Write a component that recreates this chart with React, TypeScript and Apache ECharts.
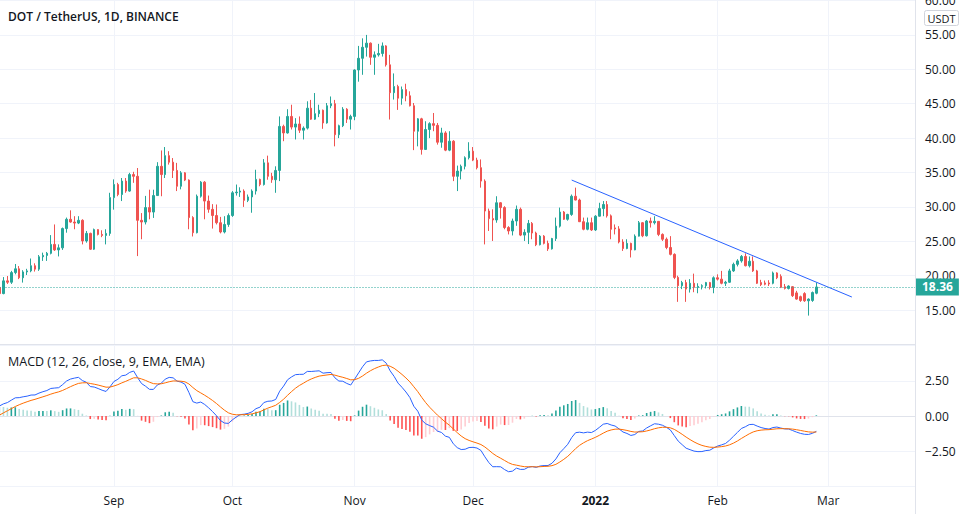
import React, { useEffect, useRef } from "react";
import * as echarts from "echarts";

// ---------- data ----------
const firstDay = "2021-08-03";
const axisLastDay = "2022-03-23";

// daily candles, [open, high, low, close]
const aug2021: number[][] = [
  [18.3, 18.6, 17.0, 17.4], [17.4, 19.8, 17.3, 19.25], [19.25, 19.95, 18.8, 19.05], [19.05, 20.7, 18.8, 20.45],
  [20.45, 21.7, 20.2, 21.0], [21.0, 21.4, 19.5, 19.7], [19.7, 20.8, 19.0, 20.55], [20.55, 21.0, 20.1, 20.7],
  [20.7, 22.5, 20.5, 21.45], [21.45, 21.8, 20.6, 20.95], [20.95, 23.0, 20.7, 22.75], [22.75, 23.35, 22.15, 22.95],
  [22.95, 23.45, 22.15, 23.25], [23.25, 25.9, 23.1, 24.55], [24.55, 27.45, 23.6, 23.75], [23.75, 24.55, 22.8, 24.05],
  [24.05, 27.0, 23.75, 26.85], [26.85, 28.45, 26.25, 28.2], [28.2, 29.5, 27.7, 27.8], [27.8, 28.65, 26.75, 27.65],
  [27.65, 28.65, 27.5, 28.05], [28.05, 28.2, 24.55, 25.05], [25.05, 26.5, 24.8, 26.15], [26.15, 26.25, 23.75, 23.85],
  [23.85, 26.85, 23.75, 26.7], [26.7, 26.75, 25.85, 26.0], [26.0, 26.6, 25.6, 25.85], [25.85, 26.75, 24.55, 26.15],
  [26.15, 32.05, 25.8, 31.35],
];
const sep2021: number[][] = [
  [31.35, 34.0, 29.6, 33.25], [33.25, 33.5, 31.55, 31.8], [31.8, 34.2, 30.85, 33.75], [33.75, 34.2, 32.05, 32.3],
  [32.3, 34.95, 32.2, 34.7], [34.7, 35.1, 33.5, 34.45], [34.45, 35.65, 22.85, 28.05], [28.05, 29.1, 25.3, 27.8],
  [27.8, 31.6, 27.45, 29.9], [29.9, 32.5, 28.2, 29.25], [29.25, 32.5, 28.4, 31.65], [31.65, 36.5, 31.6, 35.9],
  [35.9, 38.2, 31.55, 34.7], [34.7, 38.7, 34.2, 37.45], [37.45, 38.1, 36.15, 36.5], [36.5, 37.1, 34.2, 35.3],
  [35.3, 36.4, 32.3, 33.0], [33.0, 35.2, 32.55, 34.95], [34.95, 35.05, 33.75, 33.9], [33.9, 34.0, 26.75, 28.45],
  [28.45, 28.65, 25.7, 26.25], [26.25, 31.8, 26.15, 31.55], [31.55, 33.75, 31.35, 33.6], [33.6, 33.75, 28.2, 30.85],
  [30.85, 31.65, 29.15, 29.65], [29.65, 30.4, 26.85, 28.75], [28.75, 30.35, 27.45, 27.7], [27.7, 28.55, 26.15, 26.35],
  [26.35, 28.65, 26.15, 27.45], [27.45, 29.05, 27.1, 28.75],
];
const oct2021: number[][] = [
  [28.75, 32.3, 28.55, 32.05], [32.05, 33.25, 31.65, 32.15], [32.15, 32.85, 31.45, 32.3], [32.3, 32.55, 30.0, 30.95],
  [30.95, 31.8, 30.7, 31.45], [31.45, 32.55, 29.15, 32.3], [32.3, 35.4, 31.8, 34.0], [34.0, 34.1, 33.0, 33.25],
  [33.25, 36.95, 33.1, 36.4], [36.4, 37.45, 33.95, 34.45], [34.45, 34.95, 33.5, 33.95], [33.95, 35.9, 32.05, 35.3],
  [35.3, 43.15, 33.75, 41.7], [41.7, 41.95, 39.55, 40.75], [40.75, 44.2, 40.65, 43.15], [43.15, 44.85, 41.25, 41.6],
  [41.6, 42.9, 39.8, 42.05], [42.05, 43.15, 40.75, 41.15], [41.15, 41.7, 39.8, 41.45], [41.45, 45.35, 41.25, 44.35],
  [44.35, 45.55, 42.65, 42.75], [42.75, 46.55, 42.65, 43.55], [43.55, 44.85, 43.05, 44.05], [44.05, 44.15, 41.35, 42.2],
  [42.2, 45.1, 42.1, 44.7], [44.7, 46.05, 44.35, 45.0], [45.0, 45.55, 38.8, 40.5], [40.5, 41.95, 40.0, 41.8],
  [41.8, 44.5, 41.6, 44.2], [44.2, 44.35, 42.2, 42.75], [42.75, 43.4, 41.25, 43.15],
];
const nov2021: number[][] = [
  [43.15, 50.0, 42.6, 49.9], [49.9, 53.4, 48.2, 51.6], [51.6, 54.5, 49.2, 53.2], [53.2, 55.0, 51.85, 53.8],
  [53.8, 53.9, 50.65, 51.75], [51.75, 52.6, 49.2, 52.1], [52.1, 53.7, 51.85, 52.3], [52.3, 53.9, 51.85, 53.4],
  [53.4, 53.5, 50.4, 50.65], [50.65, 52.1, 42.7, 46.6], [46.6, 49.4, 45.6, 47.5], [47.5, 47.75, 44.1, 45.8],
  [45.8, 47.5, 44.85, 47.05], [47.05, 47.9, 45.35, 46.15], [46.15, 46.8, 44.6, 44.7], [44.7, 45.1, 38.25, 41.0],
  [41.0, 42.9, 38.8, 42.8], [42.8, 42.95, 37.6, 38.35], [38.35, 42.45, 38.3, 41.25], [41.25, 42.3, 40.0, 42.1],
  [42.1, 43.65, 41.0, 41.85], [41.85, 42.2, 39.05, 39.4], [39.4, 41.5, 38.6, 40.75], [40.75, 41.0, 38.1, 38.25],
  [38.25, 41.0, 38.1, 39.55], [39.55, 39.7, 33.75, 34.45], [34.45, 36.0, 32.3, 35.2], [35.2, 36.15, 34.0, 35.9],
  [35.9, 37.35, 35.45, 37.15], [37.15, 39.4, 36.9, 38.1],
];
const dec2021: number[][] = [
  [38.1, 38.7, 36.65, 36.8], [36.8, 37.15, 35.45, 35.7], [35.7, 36.9, 32.8, 33.75], [33.75, 34.0, 24.55, 29.4],
  [29.4, 29.75, 26.5, 28.3], [28.3, 29.65, 25.05, 28.1], [28.1, 31.55, 27.7, 30.6], [30.6, 30.7, 28.3, 29.9],
  [29.9, 30.1, 26.75, 27.0], [27.0, 27.2, 26.0, 26.5], [26.5, 28.3, 25.85, 27.95], [27.95, 30.2, 27.25, 29.65],
  [29.65, 29.9, 25.75, 25.9], [25.9, 26.75, 25.05, 26.3], [26.3, 28.1, 24.6, 27.6], [27.6, 27.8, 25.3, 26.2],
  [26.2, 26.4, 24.3, 24.5], [24.5, 25.9, 24.4, 25.75], [25.75, 25.9, 24.55, 24.7], [24.7, 25.1, 23.6, 23.9],
  [23.9, 25.5, 23.8, 25.4], [25.4, 28.45, 25.05, 27.2], [27.2, 29.9, 27.0, 29.25], [29.25, 29.4, 28.1, 28.2],
  [28.2, 29.0, 28.0, 28.9], [28.9, 31.8, 28.7, 31.55], [31.55, 32.8, 30.95, 31.0], [31.0, 31.2, 27.8, 27.85],
  [27.85, 28.45, 26.6, 26.75], [26.75, 28.45, 26.6, 27.7], [27.7, 28.45, 26.5, 26.65],
];
const jan2022: number[][] = [
  [26.65, 28.8, 26.5, 28.65], [28.65, 30.6, 28.6, 29.75], [29.75, 30.85, 28.65, 30.35], [30.35, 30.85, 28.45, 28.7],
  [28.7, 28.9, 25.3, 26.75], [26.95, 27.45, 26.0, 26.8], [26.8, 27.2, 24.7, 24.9], [24.9, 25.3, 23.6, 23.95],
  [23.95, 25.3, 23.85, 24.7], [24.7, 24.8, 22.65, 23.75], [23.75, 26.0, 23.7, 25.75], [25.75, 27.95, 25.7, 27.7],
  [27.7, 27.8, 25.6, 25.8], [25.8, 28.1, 25.7, 27.95], [27.95, 28.45, 27.0, 27.7], [27.7, 28.65, 27.45, 27.9],
  [27.9, 27.95, 25.75, 26.0], [26.0, 26.15, 25.05, 25.3], [25.3, 25.55, 23.85, 24.1], [24.1, 25.75, 22.95, 23.1],
  [23.1, 23.25, 19.5, 19.75], [19.75, 20.0, 16.2, 18.55], [18.55, 19.25, 18.05, 19.0], [19.0, 19.4, 16.2, 18.05],
  [18.05, 19.5, 17.55, 18.9], [18.9, 20.3, 17.6, 18.3], [18.3, 18.9, 17.45, 18.45], [18.45, 18.75, 18.0, 18.55],
  [18.55, 19.1, 18.15, 19.0], [19.0, 19.1, 18.0, 18.3], [18.3, 19.9, 17.45, 19.7],
];
const feb2022: number[][] = [
  [19.7, 20.2, 19.3, 19.5], [19.5, 20.7, 18.75, 18.9], [18.9, 19.25, 18.5, 19.05], [19.05, 21.0, 18.95, 20.7],
  [20.7, 21.9, 20.55, 21.65], [21.65, 22.4, 21.35, 22.15], [22.15, 23.0, 21.9, 22.8], [22.8, 23.25, 21.35, 21.45],
  [21.45, 22.8, 21.2, 22.1], [22.1, 22.8, 20.55, 20.7], [20.7, 20.85, 18.8, 18.9], [19.0, 19.4, 18.5, 18.7],
  [18.95, 19.3, 18.6, 18.75], [18.95, 19.35, 18.5, 18.8], [18.9, 20.6, 18.75, 20.4], [20.4, 20.5, 19.5, 19.7],
  [19.9, 20.2, 18.2, 18.3], [18.4, 18.8, 18.0, 18.15], [18.15, 18.6, 18.0, 18.5], [18.4, 18.5, 16.9, 17.1],
  [17.5, 17.8, 16.5, 16.6], [16.95, 17.1, 16.2, 16.4], [17.4, 17.6, 16.2, 16.35], [16.35, 16.7, 14.2, 16.6],
  [16.4, 17.7, 16.2, 17.55], [17.45, 19.0, 17.3, 18.36],
];

const lastPrice = 18.36;
const trendFrom: [string, number] = ["2021-12-26", 33.9];
const trendTo: [string, number] = ["2022-03-07", 16.9];

const priceMin = 10;
const priceMax = 60;
const priceStep = 5;
const macdMin = -5;
const macdMax = 5;
const macdStep = 2.5;

const macdFast = 12;
const macdSlow = 26;
const macdSignal = 9;
// indicator state just before the first visible candle
const seedFastEma = 16.6;
const seedSlowEma = 15.9;
const seedSignal = -0.1;

const monthNames = ["Jan", "Feb", "Mar", "Apr", "May", "Jun", "Jul", "Aug", "Sep", "Oct", "Nov", "Dec"];

// ---------- colours ----------
const UP = "#26a69a";
const DOWN = "#ef5350";
const GRID = "#f0f3fa";
const BORDER = "#e0e3eb";
const TEXT = "#131722";
const FONT = "'Open Sans', 'Liberation Sans', Arial, sans-serif";

function buildDays(from: string, to: string): string[] {
  const out: string[] = [];
  const d = new Date(from + "T00:00:00Z");
  const end = new Date(to + "T00:00:00Z").getTime();
  while (d.getTime() <= end) {
    out.push(d.toISOString().slice(0, 10));
    d.setUTCDate(d.getUTCDate() + 1);
  }
  return out;
}

const isMonthStart = (_i: number, v: string) => typeof v === "string" && v.slice(8) === "01";

export default function App() {
  const ref = useRef<HTMLDivElement>(null);

  useEffect(() => {
    document.body.style.margin = "0";
    if (!ref.current) return;
    const chart = echarts.init(ref.current, undefined, { renderer: "svg" });

    const days = buildDays(firstDay, axisLastDay);
    const candles = [...aug2021, ...sep2021, ...oct2021, ...nov2021, ...dec2021, ...jan2022, ...feb2022];
    const candleData = candles.map(([o, h, l, c]) => [o, c, l, h]);

    // MACD from the closes
    const aF = 2 / (macdFast + 1);
    const aS = 2 / (macdSlow + 1);
    const aG = 2 / (macdSignal + 1);
    let eF = seedFastEma;
    let eS = seedSlowEma;
    let sig = seedSignal;
    let prevHist = seedFastEma - seedSlowEma - seedSignal;
    const macdLine: number[] = [];
    const signalLine: number[] = [];
    const hist: any[] = [];
    candles.forEach((c) => {
      const close = c[3];
      eF += aF * (close - eF);
      eS += aS * (close - eS);
      const m = eF - eS;
      sig += aG * (m - sig);
      const h = m - sig;
      let color: string;
      if (h >= 0) color = h > prevHist ? "#26a69a" : "#b2dfdb";
      else color = h < prevHist ? "#ff5252" : "#ffcdd2";
      prevHist = h;
      macdLine.push(+m.toFixed(4));
      signalLine.push(+sig.toFixed(4));
      hist.push({ value: +h.toFixed(4), itemStyle: { color } });
    });

    const trend: (number | null)[] = days.map(() => null);
    trend[days.indexOf(trendFrom[0])] = trendFrom[1];
    trend[days.indexOf(trendTo[0])] = trendTo[1];

    const gridLeft = -0.5;
    const gridRight = 53;

    const option: any = {
      animation: false,
      backgroundColor: "#ffffff",
      textStyle: { fontFamily: FONT },
      title: [
        {
          text: "DOT / TetherUS, 1D, BINANCE",
          left: 8,
          top: 10,
          padding: 0,
          textStyle: { fontFamily: FONT, fontSize: 12, fontWeight: 600, color: TEXT },
        },
        {
          text: "MACD (12, 26, close, 9, EMA, EMA)",
          left: 8,
          top: 355,
          padding: 0,
          textStyle: { fontFamily: FONT, fontSize: 12.5, fontWeight: "normal", color: TEXT },
        },
      ],
      grid: [
        { left: gridLeft, right: gridRight, top: 0.5, height: 344, containLabel: false, outerBoundsMode: "none" },
        { left: gridLeft, right: gridRight, top: 345.5, height: 141, containLabel: false, outerBoundsMode: "none" },
      ],
      xAxis: [
        {
          type: "category",
          gridIndex: 0,
          data: days,
          boundaryGap: false,
          axisLine: { show: true, lineStyle: { color: BORDER } },
          axisTick: { show: false },
          axisLabel: { show: false },
          splitLine: { show: true, interval: isMonthStart, lineStyle: { color: GRID, width: 1 } },
        },
        {
          type: "category",
          gridIndex: 1,
          data: days,
          boundaryGap: false,
          axisLine: { show: true, lineStyle: { color: BORDER } },
          axisTick: { show: false },
          axisLabel: {
            show: true,
            interval: isMonthStart,
            margin: 8,
            color: TEXT,
            fontSize: 12,
            fontFamily: FONT,
            formatter: (v: string) => {
              const m = +v.slice(5, 7);
              if (m === 1) return "{y|" + v.slice(0, 4) + "}";
              return monthNames[m - 1];
            },
            rich: { y: { fontWeight: "bold", fontSize: 12, color: TEXT, fontFamily: FONT } },
          },
          splitLine: { show: true, interval: isMonthStart, lineStyle: { color: GRID, width: 1 } },
        },
      ],
      yAxis: [
        {
          type: "value",
          gridIndex: 0,
          position: "right",
          min: priceMin,
          max: priceMax,
          interval: priceStep,
          axisLine: { show: true, lineStyle: { color: BORDER } },
          axisTick: { show: false },
          axisLabel: {
            color: TEXT,
            fontSize: 12,
            fontFamily: FONT,
            margin: 10,
            showMinLabel: false,
            formatter: (v: number) => v.toFixed(2),
          },
          splitLine: { show: true, lineStyle: { color: GRID, width: 1 } },
        },
        {
          type: "value",
          gridIndex: 1,
          position: "right",
          min: macdMin,
          max: macdMax,
          interval: macdStep,
          axisLine: { show: true, lineStyle: { color: BORDER } },
          axisTick: { show: false },
          axisLabel: {
            color: TEXT,
            fontSize: 12,
            fontFamily: FONT,
            margin: 10,
            showMinLabel: false,
            showMaxLabel: false,
            formatter: (v: number) => v.toFixed(2).replace("-", "\u2212"),
          },
          splitLine: { show: true, lineStyle: { color: GRID, width: 1 } },
        },
      ],
      graphic: [
        {
          type: "line",
          silent: true,
          shape: { x1: 915.5, y1: 0, x2: 915.5, y2: 514 },
          style: { stroke: BORDER, lineWidth: 1 },
        },
        {
          type: "group",
          right: 9,
          top: 10,
          children: [
            {
              type: "rect",
              shape: { x: 0, y: 0, width: 34, height: 15, r: 2 },
              style: { fill: "#ffffff", stroke: "#d1d4dc", lineWidth: 1 },
            },
            {
              type: "text",
              x: 17,
              y: 8,
              style: {
                text: "USDT",
                fill: TEXT,
                fontSize: 11,
                fontFamily: FONT,
                align: "center",
                verticalAlign: "middle",
              },
            },
          ],
        },
      ],
      series: [
        {
          type: "candlestick",
          name: "DOTUSDT",
          xAxisIndex: 0,
          yAxisIndex: 0,
          data: candleData,
          barWidth: 2,
          itemStyle: { color: UP, color0: DOWN, borderColor: UP, borderColor0: DOWN, borderWidth: 1 },
          markLine: {
            silent: true,
            symbol: ["none", "none"],
            lineStyle: { color: UP, type: [1, 2], width: 1 },
            label: {
              show: true,
              position: "end",
              distance: 1,
              formatter: lastPrice.toFixed(2),
              color: "#ffffff",
              backgroundColor: UP,
              padding: [3, 6, 2, 6],
              fontSize: 12,
              fontWeight: "bold",
              fontFamily: FONT,
            },
            data: [{ yAxis: lastPrice }],
          },
        },
        {
          type: "line",
          name: "trend",
          xAxisIndex: 0,
          yAxisIndex: 0,
          data: trend,
          connectNulls: true,
          symbol: "none",
          lineStyle: { color: "#2962ff", width: 1 },
          silent: true,
        },
        {
          type: "bar",
          name: "Histogram",
          xAxisIndex: 1,
          yAxisIndex: 1,
          data: hist,
          barWidth: 1.6,
        },
        {
          type: "line",
          name: "MACD",
          xAxisIndex: 1,
          yAxisIndex: 1,
          data: macdLine,
          symbol: "none",
          lineStyle: { color: "#2962ff", width: 1 },
        },
        {
          type: "line",
          name: "Signal",
          xAxisIndex: 1,
          yAxisIndex: 1,
          data: signalLine,
          symbol: "none",
          lineStyle: { color: "#ff6d00", width: 1 },
        },
      ],
    };

    chart.setOption(option);
    return () => chart.dispose();
  }, []);

  return <div ref={ref} style={{ width: 968, height: 514 }} />;
}
